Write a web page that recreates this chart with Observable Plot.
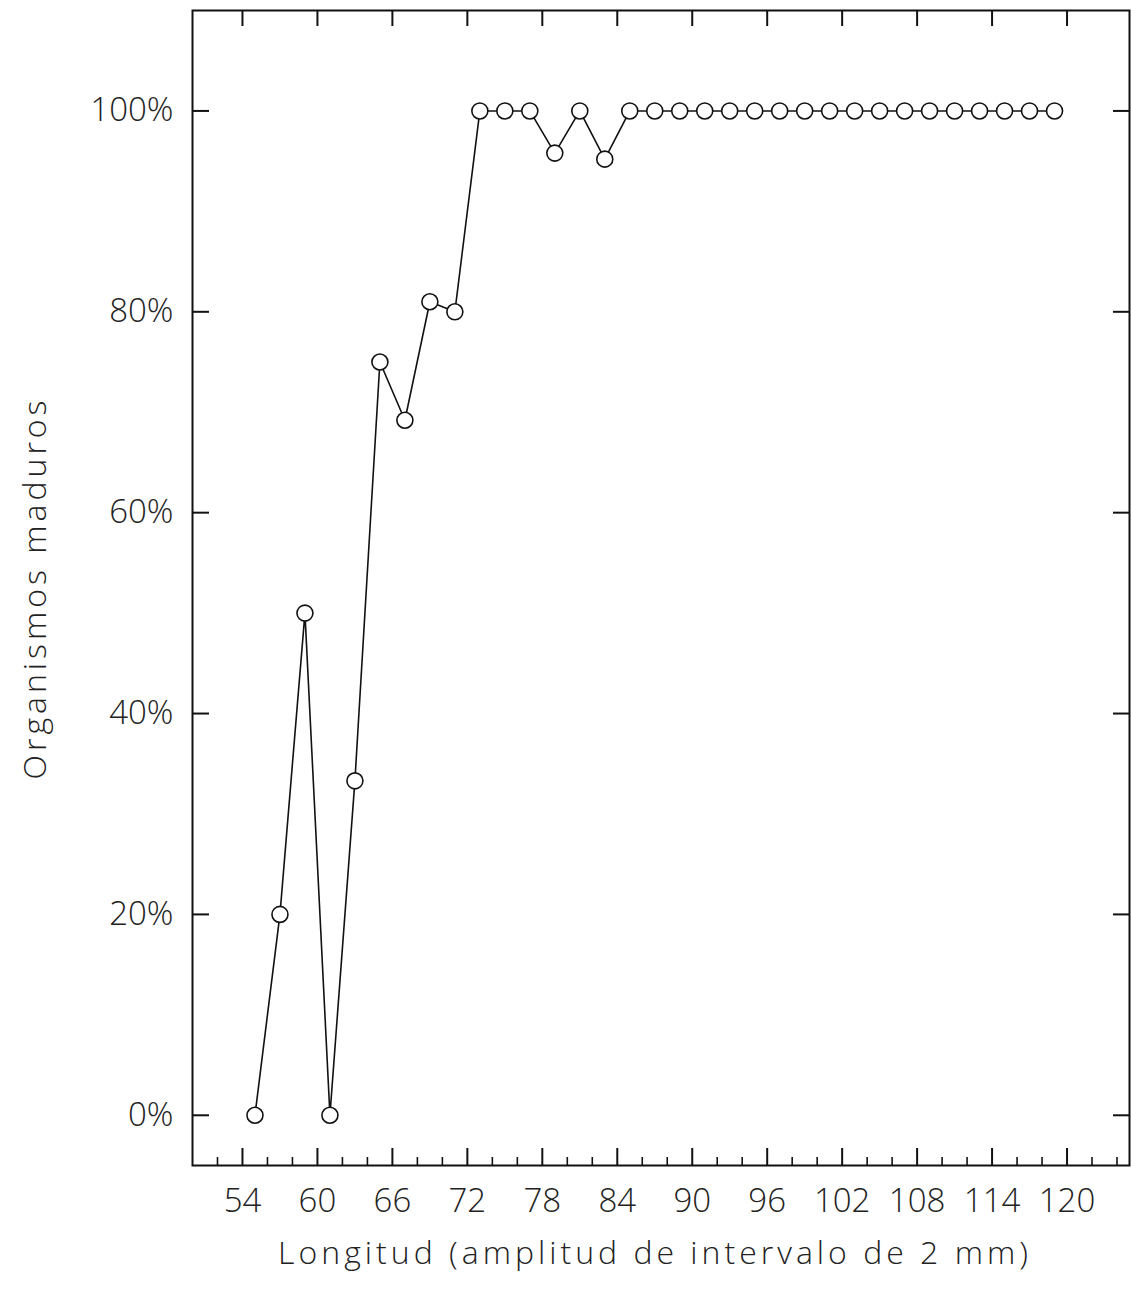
<!DOCTYPE html>
<html><head><meta charset="utf-8">
<script src="https://cdn.jsdelivr.net/npm/d3@7"></script>
<script src="https://cdn.jsdelivr.net/npm/@observablehq/plot@0.6"></script>
<style>
html,body{margin:0;background:#fff}
svg{display:block}
g[aria-label="text"] text{letter-spacing:4px}
</style>
</head><body><div id="chart"></div>
<script>
// Data (lengths in mm, class marks of 2 mm intervals) and % mature
const longitud = [55,57,59,61,63,65,67,69,71,73,75,77,79,81,83,85,87,89,91,93,95,97,99,101,103,105,107,109,111,113,115,117,119];
const maduros  = [0,20,50,0,33.3,75,69.2,81,80,100,100,100,95.8,100,95.2,100,100,100,100,100,100,100,100,100,100,100,100,100,100,100,100,100,100];
const xMajor = [54,60,66,72,78,84,90,96,102,108,114,120];
const xMinor = [52,56,58,62,64,68,70,74,76,80,82,86,88,92,94,98,100,104,106,110,112,116,118,122,124];
const yTicks = [0,20,40,60,80,100];
const xLabel = "Longitud (amplitud de intervalo de 2 mm)";
const yLabel = "Organismos maduros";

const W = 1131, H = 1297;
const mL = 192, mR = 2, mT = 10, mB = 132;
const pw = W - mL - mR, ph = H - mT - mB;
const data = longitud.map((x, i) => ({x, y: maduros[i]}));

const chart = Plot.plot({
  width: W, height: H,
  marginLeft: mL, marginRight: mR, marginTop: mT, marginBottom: mB,
  x: {domain: [50, 125]},
  y: {domain: [-5, 110]},
  style: {fontFamily: "'Open Sans', Lato, sans-serif", fontWeight: 300, color: "#222", background: "#fff"},
  marks: [
    Plot.frame({stroke: "#111", strokeWidth: 2}),
    Plot.tickX(xMajor, {x: d => d, insetTop: ph - 17, stroke: "#111", strokeWidth: 2}),
    Plot.tickX(xMinor, {x: d => d, insetTop: ph - 8, stroke: "#111", strokeWidth: 1.6}),
    Plot.tickX(xMajor, {x: d => d, insetBottom: ph - 16, stroke: "#111", strokeWidth: 2}),
    Plot.tickY(yTicks, {y: d => d, insetRight: pw - 17, stroke: "#111", strokeWidth: 2}),
    Plot.tickY(yTicks, {y: d => d, insetLeft: pw - 16, stroke: "#111", strokeWidth: 2}),
    Plot.axisX({ticks: xMajor, tickSize: 0, tickPadding: 23, fontSize: 33, label: null, tickFormat: d => String(d)}),
    Plot.axisY({ticks: yTicks, tickSize: 0, tickPadding: 19, fontSize: 33, label: null, tickFormat: d => d + "%"}),
    Plot.line(data, {x: "x", y: "y", stroke: "#111", strokeWidth: 1.6}),
    Plot.dot(data, {x: "x", y: "y", r: 8, fill: "#fff", stroke: "#111", strokeWidth: 1.6}),
    Plot.text([xLabel], {frameAnchor: "bottom", dx: -6, dy: 88, fontSize: 32, textAnchor: "middle", lineAnchor: "middle", fill: "#222"}),
    Plot.text([yLabel], {frameAnchor: "left", dx: -157, rotate: -90, fontSize: 32, textAnchor: "middle", lineAnchor: "middle", fill: "#222"})
  ]
});
document.getElementById("chart").appendChild(chart);
</script>
</body></html>
